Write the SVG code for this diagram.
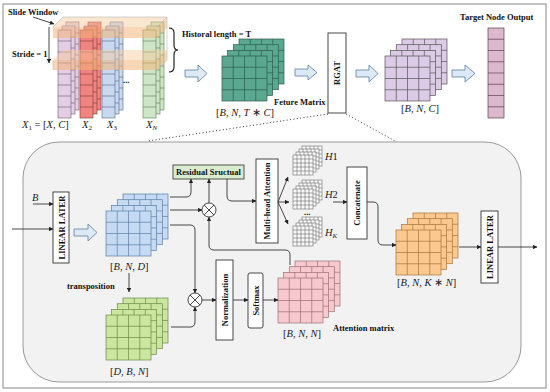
<svg xmlns="http://www.w3.org/2000/svg" xmlns:xlink="http://www.w3.org/1999/xlink" width="550" height="392" viewBox="0 0 550 392">
<style>
.t{font-family:"Liberation Serif",serif;font-weight:bold;font-size:8.5px;fill:#111}
.m{font-family:"Liberation Serif",serif;font-size:10.5px;fill:#222}
.m tspan.i{font-style:italic}
.ln{stroke:#333;stroke-width:0.9;fill:none}
.box{fill:#fff;stroke:#333;stroke-width:0.9}
.ba{fill:#dde9f6;stroke:#6d8aa8;stroke-width:0.9}
</style>
<defs>
<marker id="ah" viewBox="0 0 8 8" refX="7.5" refY="4" markerWidth="5" markerHeight="5" orient="auto"><path d="M0 0L8 4L0 8z" fill="#222"/></marker>
<g id="L"><rect width="45" height="45"/><path d="M11.25 0V45M22.5 0V45M33.75 0V45M0 11.25H45M0 22.5H45M0 33.75H45" fill="none"/></g>
<g id="col"><rect width="13" height="88"/><path d="M0 11H13M0 22H13M0 33H13M0 44H13M0 55H13M0 66H13M0 77H13" fill="none"/></g>
<g id="h"><rect width="20" height="20"/><path d="M4 0V20M8 0V20M12 0V20M16 0V20M0 4H20M0 8H20M0 12H20M0 16H20" fill="none"/></g>
<g id="stack"><use xlink:href="#L" x="17" y="-17"/><use xlink:href="#L" x="11.3" y="-11.3"/><use xlink:href="#L" x="5.6" y="-5.6"/><use xlink:href="#L"/></g>
<g id="hst"><use xlink:href="#h" x="9" y="-9"/><use xlink:href="#h" x="6" y="-6"/><use xlink:href="#h" x="3" y="-3"/><use xlink:href="#h"/></g>
<g id="cst"><use xlink:href="#col" x="8" y="-8"/><use xlink:href="#col" x="4" y="-4"/><use xlink:href="#col"/></g>
<g id="otimes"><circle r="7" fill="#fff" stroke="#333" stroke-width="0.9"/><path d="M-4.9 -4.9L4.9 4.9M-4.9 4.9L4.9 -4.9" stroke="#333" stroke-width="0.9"/></g>
</defs>

<rect x="3" y="4" width="543" height="384" fill="#fff" stroke="#888" stroke-width="1"/>

<!-- inner RGAT detail panel -->
<rect id="panel" x="23" y="142" width="498" height="240" rx="36" ry="36" fill="#f2f2f2" stroke="#999" stroke-width="1"/>

<!-- input columns -->
<g id="inputs">
<text class="t" x="8" y="15">Slide Window</text>
<g id="x1" fill="#e6cde6" stroke="#6b5a6b" stroke-width="0.6"><use xlink:href="#cst" x="58" y="30"/></g>
<g id="x2" fill="#f08480" stroke="#7a3a38" stroke-width="0.6"><use xlink:href="#cst" x="80" y="30"/></g>
<g id="x3" fill="#c8d8ef" stroke="#55698a" stroke-width="0.6"><use xlink:href="#cst" x="102" y="30"/></g>
<g id="xn" fill="#cfe6c6" stroke="#5a7a52" stroke-width="0.6"><use xlink:href="#cst" x="143" y="30"/></g>
<text class="t" x="123" y="83" font-size="10">...</text>
<!-- sliding window box -->
<g id="window">
<path d="M53 27H157L167 17H63Z" fill="#f6c99a" fill-opacity="0.45"/>
<rect x="53" y="27" width="104" height="11" fill="#f3b57a" fill-opacity="0.55"/>
<path d="M157 27L167 17V28L157 38Z" fill="#f3b57a" fill-opacity="0.5"/>
<path d="M53 60H157L167 50H63Z" fill="#f6c99a" fill-opacity="0.45"/>
<rect x="53" y="60" width="104" height="10" fill="#f3b57a" fill-opacity="0.55"/>
<path d="M157 60L167 50V60L157 70Z" fill="#f3b57a" fill-opacity="0.5"/>
<path d="M53 27L63 17H167V60L157 70M157 27L167 17M53 60V70" fill="none" stroke="#bbb" stroke-width="0.6"/>
</g>
<text class="t" x="12" y="57">Stride = 1</text>
<path d="M169 28Q174 28 174 33V45Q174 50 178 50Q174 50 174 55V67Q174 72 169 72" fill="none" stroke="#111" stroke-width="1.1"/>
<text class="m" x="22" y="128"><tspan class="i">X</tspan><tspan font-size="7" dy="2">1</tspan><tspan dy="-2"> = [</tspan><tspan class="i">X</tspan>, <tspan class="i">C</tspan>]</text>
<text class="m" x="82" y="128"><tspan class="i">X</tspan><tspan font-size="7" dy="2">2</tspan></text>
<text class="m" x="107" y="128"><tspan class="i">X</tspan><tspan font-size="7" dy="2">3</tspan></text>
<text class="m" x="146" y="128"><tspan class="i">X</tspan><tspan font-size="7" dy="2" class="i">N</tspan></text>
</g>

<g id="history">
<text class="t" x="182" y="37">Historal length = T</text>
</g>

<g id="feature" fill="#5aa890" stroke="#2f5a4c" stroke-width="0.7">
<use xlink:href="#stack" x="222" y="56"/>
<text class="t" x="274" y="105" stroke="none" font-size="8">Feture Matrix</text>
<text class="m" x="216" y="116" stroke="none" font-size="10">[<tspan class="i">B</tspan>, <tspan class="i">N</tspan>, <tspan class="i">T</tspan> ∗ <tspan class="i">C</tspan>]</text>
</g>

<g id="rgat">
<rect class="box" x="328" y="33" width="18" height="80"/>
<text class="t" transform="translate(340,73) rotate(-90)" text-anchor="middle">RGAT</text>
</g>

<g id="bnc" fill="#dccbe6" stroke="#555" stroke-width="0.7">
<use xlink:href="#stack" x="385" y="56"/>
<text class="m" x="401" y="112" stroke="none">[<tspan class="i">B</tspan>, <tspan class="i">N</tspan>, <tspan class="i">C</tspan>]</text>
</g>

<g id="target">
<text class="t" x="460" y="20">Target Node Output</text>
<rect x="488" y="28" width="16" height="90" fill="#dcb8cc" stroke="#5a4050" stroke-width="0.7"/>
<path d="M488 39.25H504M488 50.5H504M488 61.75H504M488 73H504M488 84.25H504M488 95.5H504M488 106.75H504" stroke="#5a4050" stroke-width="0.7"/>
</g>

<!-- block arrows -->
<g id="blockarrows">
<path class="ba" d="M185 70H198V65L207 73.5L198 82V77H185Z"/>
<path class="ba" d="M295 69H308V65L317 72.5L308 80V76H295Z"/>
<path class="ba" d="M356 70H369V65L378 73.5L369 82V77H356Z"/>
<path class="ba" d="M452 70H465V65L475 73.5L465 82V77H452Z"/>
<path class="ba" d="M74 229H88V224L97 232.5L88 241V236H74Z"/>
</g>

<!-- inner nodes -->
<text class="m" x="32" y="201"><tspan class="i">B</tspan></text>
<g id="ll1">
<rect class="box" x="53" y="192" width="16" height="71"/>
<text class="t" font-size="8" transform="translate(64.5,227.5) rotate(-90)" text-anchor="middle">LINEAR LATER</text>
</g>

<g id="bnd" fill="#c5dbf3" stroke="#5b7fa6" stroke-width="0.7">
<use xlink:href="#stack" x="106" y="211"/>
<text class="m" x="110" y="270" stroke="none">[<tspan class="i">B</tspan>, <tspan class="i">N</tspan>, <tspan class="i">D</tspan>]</text>
</g>

<text class="t" x="67" y="289">transposition</text>

<g id="dbn" fill="#cbe69e" stroke="#6b8a45" stroke-width="0.7">
<use xlink:href="#stack" x="106" y="315"/>
<text class="m" x="110" y="375" stroke="none">[<tspan class="i">D</tspan>, <tspan class="i">B</tspan>, <tspan class="i">N</tspan>]</text>
</g>

<g id="residual">
<rect x="173" y="165" width="71" height="14" fill="#d8ecd0" stroke="#444" stroke-width="0.9"/>
<text class="t" x="208.5" y="175" text-anchor="middle" font-size="8">Residual Sructual</text>
</g>

<g id="mul1"><use xlink:href="#otimes" x="209" y="210"/></g>
<g id="mul2"><use xlink:href="#otimes" x="195" y="300"/></g>

<g id="mha">
<rect class="box" x="256" y="159" width="22" height="84"/>
<text class="t" font-size="8" transform="translate(270,201) rotate(-90)" text-anchor="middle">Multi-head Attention</text>
</g>

<g id="heads" fill="#f7f7f7" stroke="#555" stroke-width="0.5">
<use xlink:href="#hst" x="293" y="155"/>
<use xlink:href="#hst" x="293" y="189"/>
<use xlink:href="#hst" x="293" y="226"/>
<text class="t" x="304" y="215" stroke="none" font-size="9">...</text>
<text class="m" x="325" y="160" stroke="none"><tspan class="i">H</tspan>1</text>
<text class="m" x="325" y="198" stroke="none"><tspan class="i">H</tspan>2</text>
<text class="m" x="325" y="236" stroke="none"><tspan class="i">H</tspan><tspan class="i" font-size="7" dy="2">K</tspan></text>
</g>

<g id="concat">
<rect class="box" x="347" y="167" width="20" height="72"/>
<text class="t" font-size="8" transform="translate(360,203) rotate(-90)" text-anchor="middle">Concatenate</text>
</g>

<g id="bnkn" fill="#fbc98f" stroke="#a87338" stroke-width="0.7">
<use xlink:href="#stack" x="396" y="230"/>
<text class="m" x="397" y="286" stroke="none">[<tspan class="i">B</tspan>, <tspan class="i">N</tspan>, <tspan class="i">K</tspan> ∗ <tspan class="i">N</tspan>]</text>
</g>

<g id="ll2">
<rect class="box" x="481" y="211" width="17" height="72"/>
<text class="t" font-size="8" transform="translate(492.5,247) rotate(-90)" text-anchor="middle">LINEAR LATER</text>
</g>

<g id="norm">
<rect class="box" x="216" y="260" width="17" height="80"/>
<text class="t" font-size="8" transform="translate(227.5,300) rotate(-90)" text-anchor="middle">Normalization</text>
</g>

<g id="softmax">
<rect class="box" x="248" y="273" width="15" height="55" rx="2"/>
<text class="t" font-size="8" transform="translate(258.5,300.5) rotate(-90)" text-anchor="middle">Softmax</text>
</g>

<g id="bnn" fill="#f7c8cd" stroke="#9c7075" stroke-width="0.7">
<use xlink:href="#stack" x="278" y="278"/>
<text class="m" x="283" y="337" stroke="none">[<tspan class="i">B</tspan>, <tspan class="i">N</tspan>, <tspan class="i">N</tspan>]</text>
<text class="t" x="333" y="331" stroke="none">Attention matrix</text>
</g>

<!-- connectors -->
<g id="connectors">
<path class="ln" d="M33 17L54 24" marker-end="url(#ah)"/>
<path class="ln" d="M49 27V63" marker-end="url(#ah)"/>
<path d="M328 114L148 141M346 114L395 141" stroke="#333" stroke-width="1" stroke-dasharray="1 2.4" fill="none"/>
<path class="ln" d="M33 204H53" marker-end="url(#ah)"/>
<path class="ln" d="M12 229H53" marker-end="url(#ah)"/>
<path class="ln" d="M170 197H186Q191 197 191 192V179" marker-end="url(#ah)"/>
<path class="ln" d="M170 210H202" marker-end="url(#ah)"/>
<path class="ln" d="M170 225H190Q195 225 195 230V293" marker-end="url(#ah)"/>
<path class="ln" d="M209 203V179" marker-end="url(#ah)"/>
<path class="ln" d="M290 265V255Q290 250 285 250H214Q209 250 209 245V217" marker-end="url(#ah)"/>
<path class="ln" d="M227 179V196Q227 201 232 201H256" marker-end="url(#ah)"/>
<path class="ln" d="M278 202L288 177" marker-end="url(#ah)"/>
<path class="ln" d="M278 202H289" marker-end="url(#ah)"/>
<path class="ln" d="M278 202L288 224" marker-end="url(#ah)"/>
<path class="ln" d="M333 202H347" marker-end="url(#ah)"/>
<path class="ln" d="M367 202H373Q378 202 378 207V240Q378 245 383 245H396" marker-end="url(#ah)"/>
<path class="ln" d="M459 247H481" marker-end="url(#ah)"/>
<path class="ln" d="M498 247H537" marker-end="url(#ah)"/>
<path class="ln" d="M129 273V292" marker-end="url(#ah)"/>
<path class="ln" d="M171 327H190Q195 327 195 322V307" marker-end="url(#ah)"/>
<path class="ln" d="M202 300H216" marker-end="url(#ah)"/>
<path class="ln" d="M233 300H248" marker-end="url(#ah)"/>
<path class="ln" d="M263 300H278" marker-end="url(#ah)"/>
</g>
</svg>
